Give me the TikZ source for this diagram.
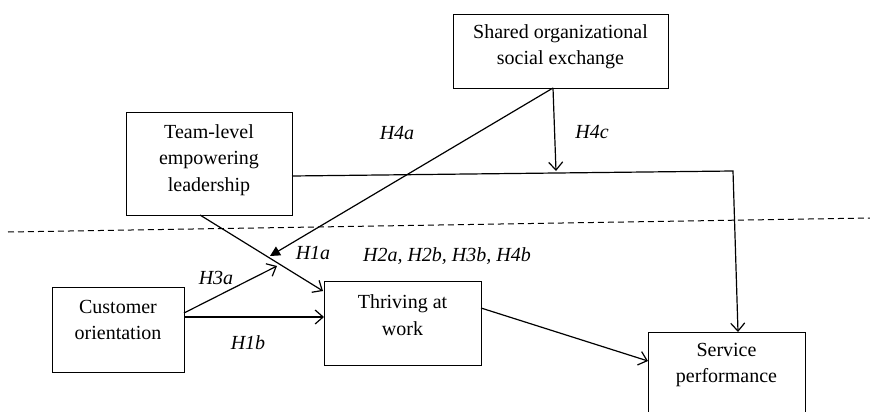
\documentclass[tikz,border=0pt]{standalone}
\usepackage{fontspec}
\setmainfont{Liberation Serif}
\usetikzlibrary{arrows.meta}
\begin{document}
\begin{tikzpicture}[x=1pt,y=-1pt,
  box/.style={draw, line width=1.2pt, inner sep=0pt, anchor=north west},
  txt/.style={align=center, inner sep=0pt, font=\fontsize{20}{26.5}\selectfont},
  hyp/.style={inner sep=0pt, font=\fontsize{20}{24}\selectfont\itshape},
  link/.style={line width=1.2pt, -{Straight Barb[length=8pt,width=14pt,line width=1.2pt]}},
  plain/.style={line width=1.2pt},
  mod/.style={line width=1.2pt, -{Triangle[length=10pt,width=10pt]}}]
\useasboundingbox (0,0) rectangle (870,412);
\clip (0,0) rectangle (870,412);
% boxes
\node[box, minimum width=215pt, minimum height=74pt] (soe) at (453,14) {};
\node[txt] (soet) at (560.5,46.5) {Shared organizational\\social exchange};
\node[box, minimum width=166pt, minimum height=103pt] (tel) at (126,112) {};
\node[txt] (telt) at (209,160) {Team-level\\empowering\\leadership};
\node[box, minimum width=132pt, minimum height=85pt] (co) at (52,287) {};
\node[txt] (cot) at (118,320) {Customer\\orientation};
\node[box, minimum width=157pt, minimum height=84pt] (thr) at (324,281) {};
\node[txt] (thrt) at (402.5,315) {Thriving at\\work};
\node[box, minimum width=157pt, minimum height=100pt] (sp) at (648,332) {};
\node[txt] (spt) at (726.5,365) {Service\\performance};
% coordinates
\coordinate (soeb) at (553,88);
\coordinate (telr) at (292,176);
\coordinate (tcorner) at (733,171);
\coordinate (spin) at (738,332);
\coordinate (h4cend) at (556,171);
\coordinate (h4aend) at (270,256);
\coordinate (telb) at (200,215);
\coordinate (thrtl) at (323,291);
\coordinate (cor1) at (184,313);
\coordinate (h3aend) at (277,266);
\coordinate (cor2) at (184,317);
\coordinate (thrl) at (324,317);
\coordinate (thrr) at (481,308);
\coordinate (spl) at (648,361);
\coordinate (dashl) at (8,232);
\coordinate (dashr) at (870,218);
% dashed level separator
\draw[line width=1pt, dash pattern=on 6pt off 4pt] (dashl) -- (dashr);
% connectors
\draw[plain, -{Straight Barb[length=8pt,width=14pt,line width=1.2pt]}] (telr) -- (tcorner) -- (spin);
\draw[link] (soeb) -- (h4cend);
\draw[mod] (soeb) -- (h4aend);
\draw[link] (telb) -- (thrtl);
\draw[link] (cor1) -- (h3aend);
\draw[link] (cor2) -- (thrl);
\draw[link] (thrr) -- (spl);
% hypothesis labels
\node[hyp] (h4a) at (397,133) {H4a};
\node[hyp] (h4c) at (592,132) {H4c};
\node[hyp] (h1a) at (313,253) {H1a};
\node[hyp] (h3a) at (216,278) {H3a};
\node[hyp] (h2) at (447,256) {H2a, H2b, H3b, H4b};
\node[hyp] (h1b) at (248,343) {H1b};
\end{tikzpicture}
\end{document}
